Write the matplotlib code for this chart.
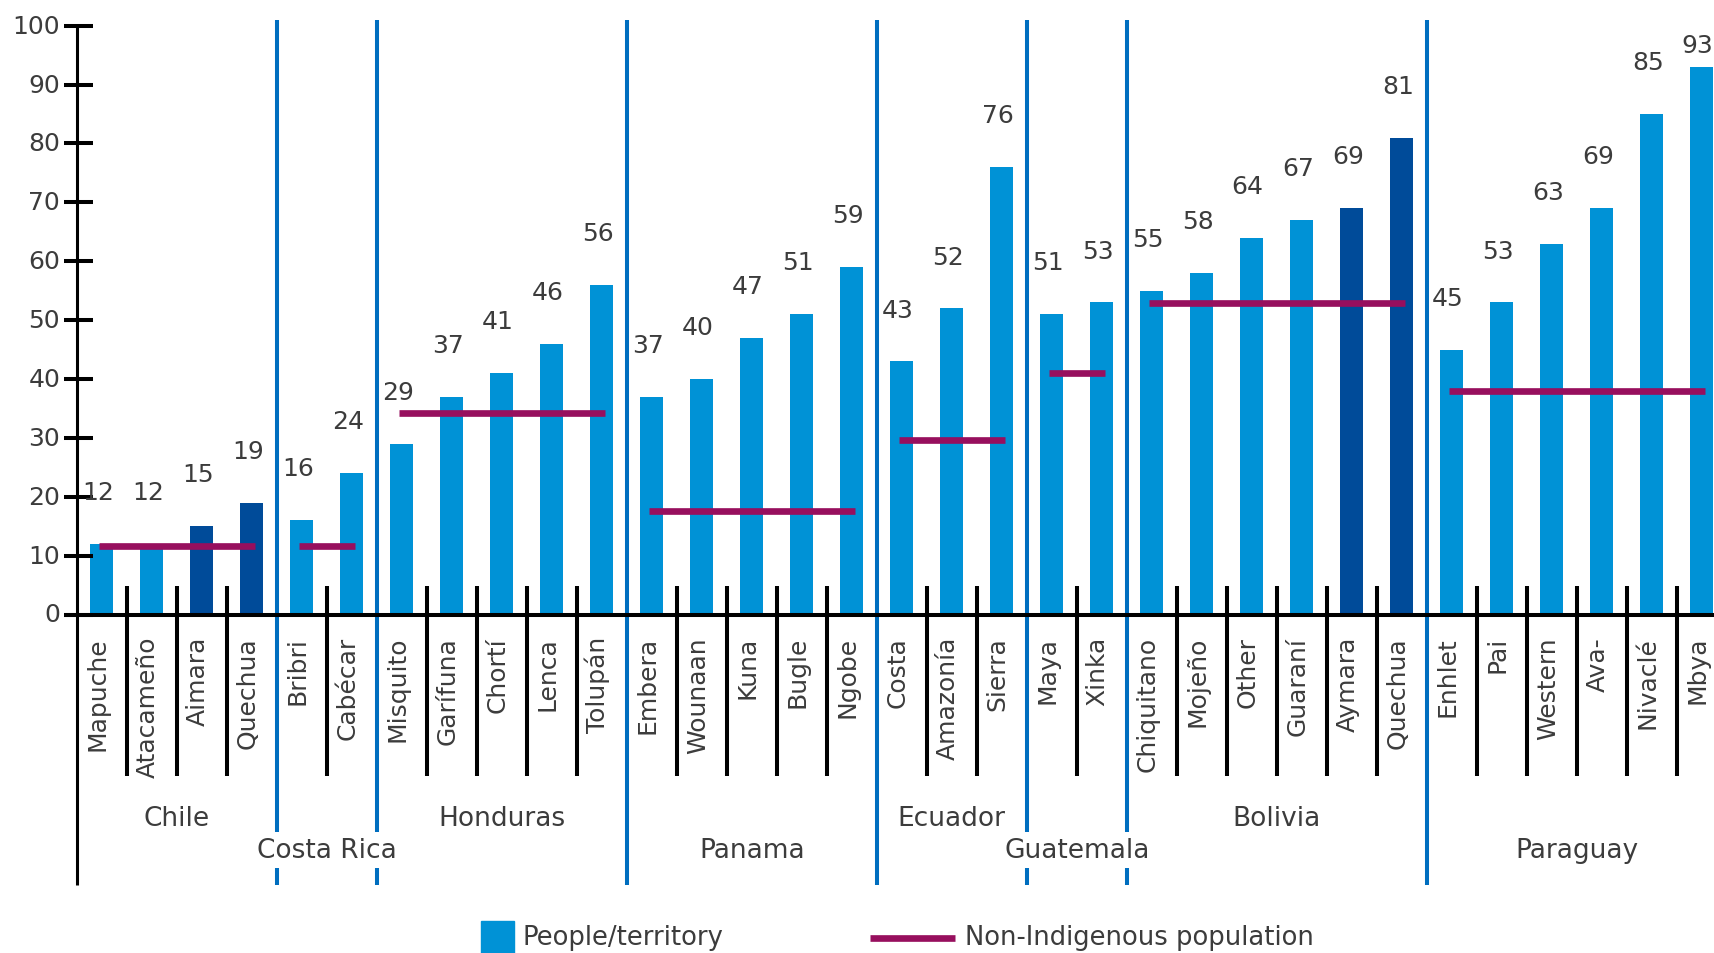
import matplotlib
matplotlib.use("Agg")
import matplotlib.pyplot as plt
from matplotlib.patches import Rectangle
from matplotlib.lines import Line2D

# peoples / territories, grouped by country (left to right)
peoples = ["Mapuche", "Atacameño", "Aimara", "Quechua",
           "Bribri", "Cabécar",
           "Misquito", "Garífuna", "Chortí", "Lenca", "Tolupán",
           "Embera", "Wounaan", "Kuna", "Bugle", "Ngobe",
           "Costa", "Amazonía", "Sierra",
           "Maya", "Xinka",
           "Chiquitano", "Mojeño", "Other", "Guaraní", "Aymara", "Quechua",
           "Enhlet", "Pai", "Western", "Ava-", "Nivaclé", "Mbya"]
values = [12, 12, 15, 19,
          16, 24,
          29, 37, 41, 46, 56,
          37, 40, 47, 51, 59,
          43, 52, 76,
          51, 53,
          55, 58, 64, 67, 69, 81,
          45, 53, 63, 69, 85, 93]
# 1 = drawn in the darker blue
dark = [0, 0, 1, 1,
        0, 0,
        0, 0, 0, 0, 0,
        0, 0, 0, 0, 0,
        0, 0, 0,
        0, 0,
        0, 0, 0, 0, 1, 1,
        0, 0, 0, 0, 0, 0]

countries = ["Chile", "Costa Rica", "Honduras", "Panama",
             "Ecuador", "Guatemala", "Bolivia", "Paraguay"]
group_sizes = [4, 2, 5, 5, 3, 2, 6, 6]
non_indigenous = [11.6, 11.6, 34.3, 17.5, 29.6, 41.0, 52.9, 37.9]

yticks = list(range(0, 101, 10))

light_blue = "#0092d6"
dark_blue = "#004b99"
magenta = "#970f5e"
sep_blue = "#006ebf"
txt = "#3c3c3c"

plt.rcParams["font.family"] = "DejaVu Sans"
plt.rcParams["font.size"] = 18

W, H = 1715, 954
fig = plt.figure(figsize=(W / 100, H / 100), dpi=100)
# axis line at x=76.7px, bars every 50px; y from 615.5px (0) to 26.7px (100)
ax = fig.add_axes([76.7 / W, (H - 615.5) / H, (W - 76.7) / W, (615.5 - 26.7) / H])
xmax = -0.5 + (W - 76.7) / 50
ax.set_xlim(-0.5, xmax)
ax.set_ylim(0, 100)
ax.axis("off")

x = list(range(len(values)))
colors = [dark_blue if d else light_blue for d in dark]
ax.bar(x, values, width=0.46, color=colors, zorder=2)

# value labels above the bars
for i, v in enumerate(values):
    ax.text(i - 0.08, min(v + 8.8, 96.7), str(v), ha="center", va="center",
            color=txt, zorder=5)

# people names under the axis
for i, name in enumerate(peoples):
    ax.text(i - 0.08, -3.65, name, rotation=90, ha="center", va="top",
            color=txt, zorder=5)

# country groups: separators, non-indigenous lines, names
start = 0
for k, (country, n) in enumerate(zip(countries, group_sizes)):
    end = start + n - 1
    ax.plot([start - 0.05, end + 0.07], [non_indigenous[k]] * 2,
            color=magenta, lw=4.8, solid_capstyle="butt", zorder=4)
    # thin black ticks between bars of the same country
    for b in range(start, end):
        ax.plot([b + 0.5, b + 0.5], [-27.4, 4.8], color="black", lw=2.9,
                solid_capstyle="butt", clip_on=False, zorder=3)
    if k > 0:
        ax.plot([start - 0.5, start - 0.5], [-46, 101], color=sep_blue, lw=2.9,
                solid_capstyle="butt", clip_on=False, zorder=1)
    row_y = -34.6 if k % 2 == 0 else -40.0
    ax.text((start + end) / 2, row_y, country, ha="center", va="center",
            color=txt, fontsize=19, zorder=5,
            bbox=dict(facecolor="white", edgecolor="none", pad=3.5))
    start = end + 1

# y axis, ticks and baseline
ax.plot([-0.5, -0.5], [-46, 100], color="black", lw=2.2,
        solid_capstyle="butt", clip_on=False, zorder=4)
for t in yticks:
    ax.plot([-0.754, -0.174], [t, t], color="black", lw=2.9,
            solid_capstyle="butt", clip_on=False, zorder=4)
    ax.text(-0.83, t, str(t), ha="right", va="center", color=txt)
ax.plot([-0.754, xmax], [0, 0], color="black", lw=2.9,
        solid_capstyle="butt", clip_on=False, zorder=4)

# legend along the bottom edge
ly = (H - 938.5) / H
fig.add_artist(Rectangle((481 / W, 0), 33 / W, 32 / H, color=light_blue,
                         transform=fig.transFigure))
fig.text(523 / W, ly, "People/territory", va="center", color=txt, fontsize=18.6)
fig.add_artist(Line2D([870 / W, 955 / W], [ly, ly], color=magenta, lw=4.8,
                      solid_capstyle="butt", transform=fig.transFigure))
fig.text(965 / W, ly, "Non-Indigenous population", va="center", color=txt,
         fontsize=18.6)

fig.savefig("out.png", dpi=100)
